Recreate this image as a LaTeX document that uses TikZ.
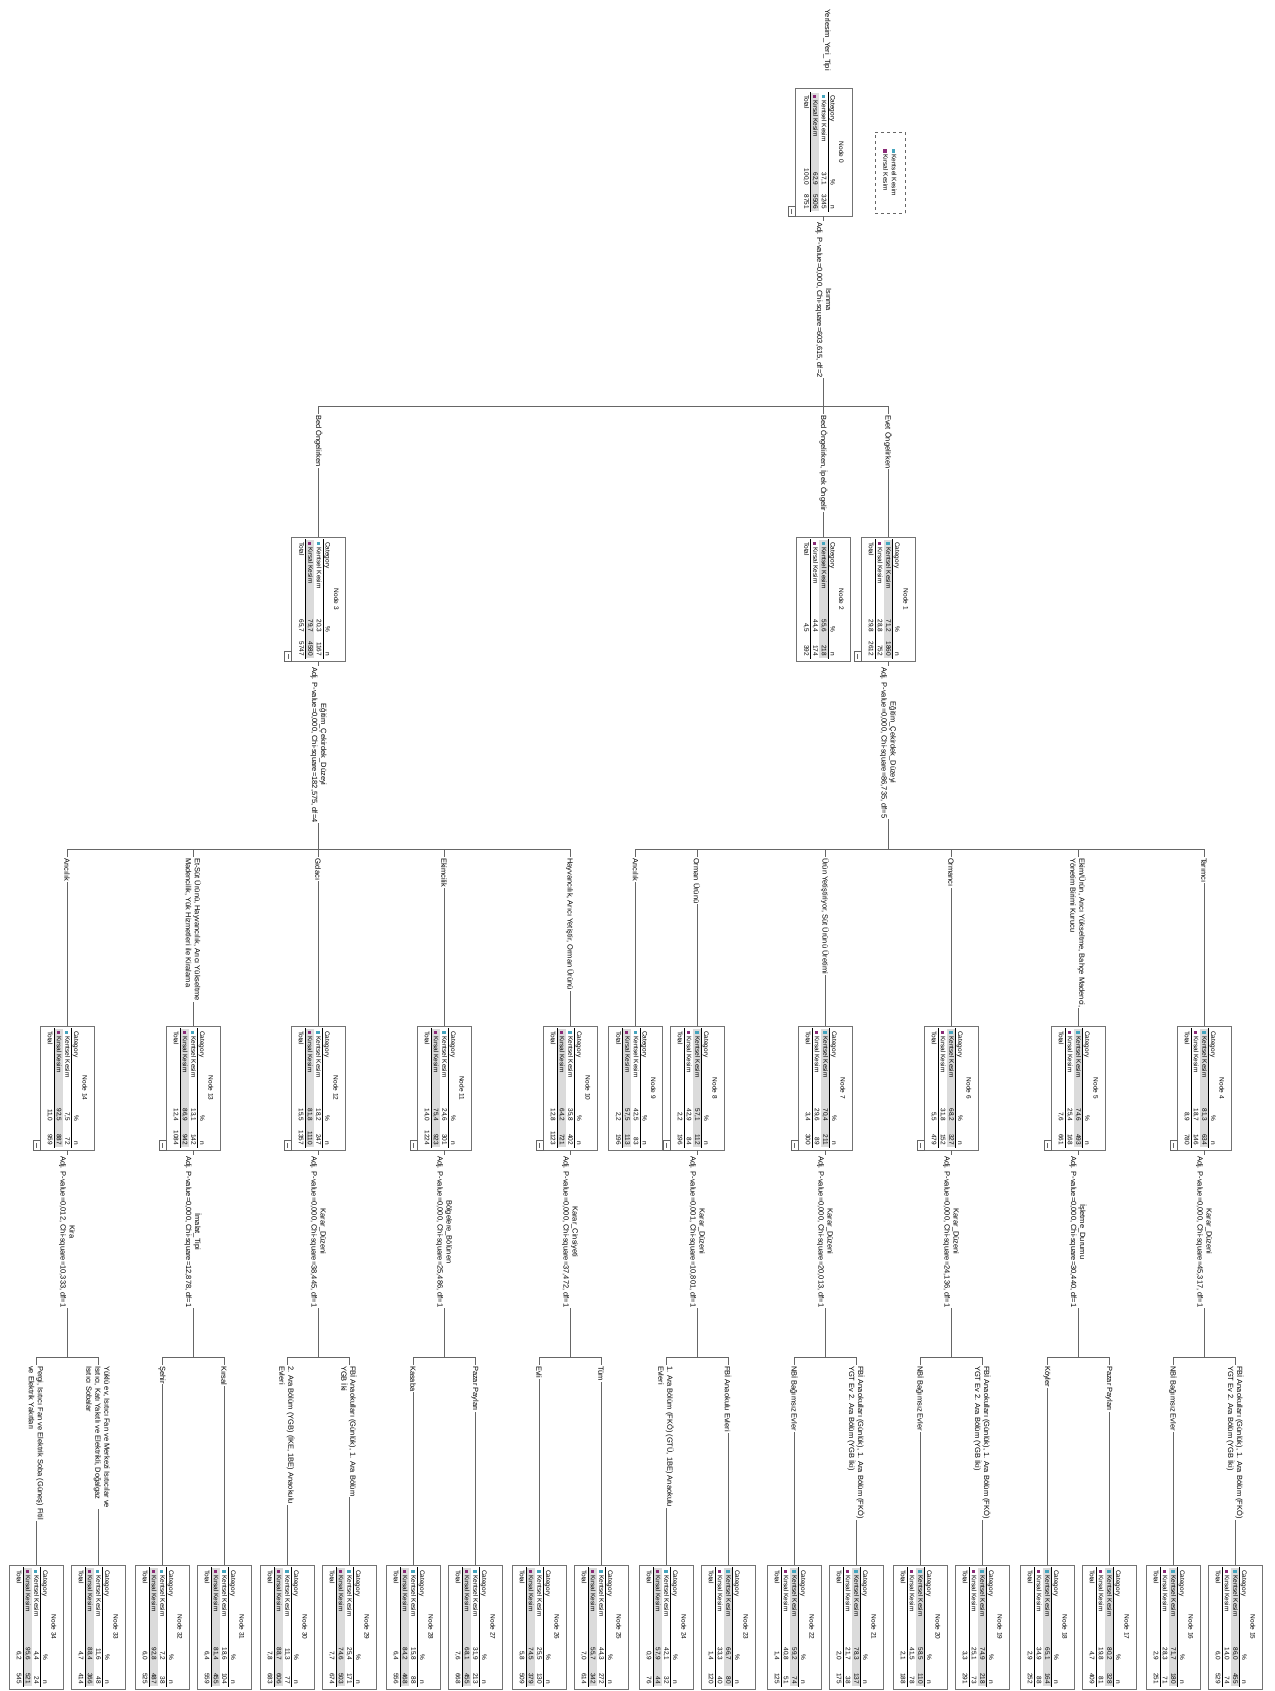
\PassOptionsToPackage{table}{xcolor}
\documentclass[tikz,border=0pt]{standalone}
\usepackage{fontspec}
\setmainfont{Liberation Sans}
\usepackage{array}
\usetikzlibrary{calc}
\definecolor{mka}{HTML}{45A5BE}
\definecolor{mkb}{HTML}{8A2B77}
\colorlet{shd}{black!14}
\colorlet{ra1}{shd}\colorlet{ra2}{white}
\colorlet{rb1}{white}\colorlet{rb2}{shd}
\setlength{\tabcolsep}{2pt}
\renewcommand{\arraystretch}{1.12}
\newcommand{\mksq}[1]{\textcolor{#1}{\rule{3.2pt}{3.2pt}}}
% name, position, number, p1, n1, p2, n2, total (p & n), shaded row
\newcommand{\tb}[9]{%
\node[tbox] (#1) at (#2) {\begin{tabular}{@{\hspace{3pt}}p{68pt}>{\raggedleft\arraybackslash}p{18pt}>{\raggedleft\arraybackslash}p{20pt}@{\hspace{3pt}}}
\multicolumn{3}{c}{Node #3}\\
Category & \% & n\\\hline
\rowcolor{ra#9}\mksq{mka} Kentsel Kesim & #4 & #5\\
\rowcolor{rb#9}\mksq{mkb} Kırsal Kesim & #6 & #7\\\hline
Total & #8\\
\end{tabular}};}
\newcommand{\icn}[1]{\draw[icn] (#1.south east) rectangle ++(-7,-10);
\draw[black!60, line width=0.5pt] ([shift={(-3.5,-2.5)}]#1.south east) -- ++(0,-5);}
\newcommand{\cnx}[3]{\draw[cn] (#1.east) -- (#1.east |- 0,#2) -| (#3.west);}
\begin{document}
\begin{tikzpicture}[x=1pt,y=-1pt,
 tbox/.style={draw=black!55, fill=white, rotate=-90, anchor=west, inner sep=0pt, minimum width=124pt, minimum height=54pt, font=\fontsize{6.5}{7.6}\selectfont},
 cn/.style={draw=black!60, line width=0.6pt},
 blab/.style={rotate=-90, anchor=west, fill=white, inner sep=0.8pt, align=left, font=\fontsize{7.5}{9}\selectfont},
 slab/.style={rotate=-90, anchor=west, fill=white, inner sep=0.8pt, align=center, font=\fontsize{7.5}{9}\selectfont},
 icn/.style={draw=black!60, line width=0.5pt, fill=white}]
\useasboundingbox (0,0) rectangle (1274,1691);

% title and legend
\node[rotate=-90, anchor=west, font=\fontsize{7.5}{9}\selectfont] (title) at (827,6) {Yerlesim\_Yeri\_Tipi};
\node[rotate=-90, anchor=west, draw=black!60, dashed, align=left, inner sep=2pt, minimum width=81pt, minimum height=30pt, font=\fontsize{6.5}{8.5}\selectfont] (legend) at (890,132) {\mksq{mka} Kentsel Kesim\\\mksq{mkb} Kırsal Kesim};

% nodes
\begin{scope}[tbox/.append style={minimum width=128pt, minimum height=57pt}]
\tb{n0}{823.5,88}{0}{37,1}{3245}{62,9}{5506}{100,0 & 8751}{2}
\end{scope}
\tb{n1}{888,537}{1}{71,2}{1860}{28,8}{752}{29,8 & 2612}{1}
\tb{n2}{823.5,537}{2}{55,6}{218}{44,4}{174}{4,5 & 392}{1}
\tb{n3}{318.5,537}{3}{20,3}{1167}{79,7}{4580}{65,7 & 5747}{2}

\tb{n4}{1204,1026}{4}{81,3}{634}{18,7}{146}{8,9 & 780}{1}
\tb{n5}{1078,1026}{5}{74,6}{493}{25,4}{168}{7,6 & 661}{1}
\tb{n6}{951,1026}{6}{68,2}{327}{31,8}{152}{5,5 & 479}{1}
\tb{n7}{825,1026}{7}{70,4}{211}{29,6}{89}{3,4 & 300}{1}
\tb{n8}{697,1026}{8}{57,1}{112}{42,9}{84}{2,2 & 196}{1}
\tb{n9}{635.5,1026}{9}{42,5}{83}{57,5}{113}{2,2 & 196}{2}
\tb{n10}{570,1026}{10}{35,8}{402}{64,2}{721}{12,8 & 1123}{2}
\tb{n11}{444,1026}{11}{24,6}{301}{75,4}{923}{14,0 & 1224}{2}
\tb{n12}{318,1026}{12}{18,2}{247}{81,8}{1110}{15,5 & 1357}{2}
\tb{n13}{193,1026}{13}{13,1}{142}{86,9}{942}{12,4 & 1084}{2}
\tb{n14}{67,1026}{14}{7,5}{72}{92,5}{887}{11,0 & 959}{2}

\tb{n15}{1235,1565}{15}{86,0}{455}{14,0}{74}{6,0 & 529}{1}
\tb{n16}{1173,1565}{16}{71,7}{180}{28,3}{71}{2,9 & 251}{1}
\tb{n17}{1109,1565}{17}{80,2}{328}{19,8}{81}{4,7 & 409}{1}
\tb{n18}{1047,1565}{18}{65,1}{164}{34,9}{88}{2,9 & 252}{1}
\tb{n19}{982,1565}{19}{74,9}{218}{25,1}{73}{3,3 & 291}{1}
\tb{n20}{920,1565}{20}{58,5}{110}{41,5}{78}{2,1 & 188}{1}
\tb{n21}{856,1565}{21}{78,3}{137}{21,7}{38}{2,0 & 175}{1}
\tb{n22}{794,1565}{22}{59,2}{74}{40,8}{51}{1,4 & 125}{1}
\tb{n23}{728,1565}{23}{66,7}{80}{33,3}{40}{1,4 & 120}{1}
\tb{n24}{666,1565}{24}{42,1}{32}{57,9}{44}{0,9 & 76}{2}
\tb{n25}{601,1565}{25}{44,3}{272}{55,7}{342}{7,0 & 614}{2}
\tb{n26}{539,1565}{26}{25,5}{130}{74,5}{379}{5,8 & 509}{2}
\tb{n27}{475,1565}{27}{31,9}{213}{68,1}{455}{7,6 & 668}{2}
\tb{n28}{413,1565}{28}{15,8}{88}{84,2}{468}{6,4 & 556}{2}
\tb{n29}{349,1565}{29}{25,4}{171}{74,6}{503}{7,7 & 674}{2}
\tb{n30}{287,1565}{30}{11,3}{77}{88,7}{606}{7,8 & 683}{2}
\tb{n31}{224,1565}{31}{18,6}{104}{81,4}{455}{6,4 & 559}{2}
\tb{n32}{162,1565}{32}{7,2}{38}{92,8}{487}{6,0 & 525}{2}
\tb{n33}{98,1565}{33}{11,6}{48}{88,4}{366}{4,7 & 414}{2}
\tb{n34}{36,1565}{34}{4,4}{24}{95,6}{521}{6,2 & 545}{2}

% connectors
\cnx{n0}{406}{n1}\cnx{n0}{406}{n2}\cnx{n0}{406}{n3}
\cnx{n1}{849}{n4}\cnx{n1}{849}{n5}\cnx{n1}{849}{n6}\cnx{n1}{849}{n7}\cnx{n1}{849}{n8}\cnx{n1}{849}{n9}
\cnx{n3}{849}{n10}\cnx{n3}{849}{n11}\cnx{n3}{849}{n12}\cnx{n3}{849}{n13}\cnx{n3}{849}{n14}
\cnx{n4}{1357}{n15}\cnx{n4}{1357}{n16}
\cnx{n5}{1357}{n17}\cnx{n5}{1357}{n18}
\cnx{n6}{1357}{n19}\cnx{n6}{1357}{n20}
\cnx{n7}{1357}{n21}\cnx{n7}{1357}{n22}
\cnx{n8}{1357}{n23}\cnx{n8}{1357}{n24}
\cnx{n10}{1357}{n25}\cnx{n10}{1357}{n26}
\cnx{n11}{1357}{n27}\cnx{n11}{1357}{n28}
\cnx{n12}{1357}{n29}\cnx{n12}{1357}{n30}
\cnx{n13}{1357}{n31}\cnx{n13}{1357}{n32}
\cnx{n14}{1357}{n33}\cnx{n14}{1357}{n34}

% split labels
\node[slab] (s0) at (823.5,221) {Isınma\\Adj. P-value=0,000, Chi-square=603,615, df=2};
\node[slab] (s1) at (888,666) {Eğitim\_Çekirdek\_Düzeyi\\Adj. P-value=0,000, Chi-square=86,735, df=5};
\node[slab] (s3) at (318.5,666) {Eğitim\_Çekirdek\_Düzeyi\\Adj. P-value=0,000, Chi-square=182,575, df=4};
\node[slab] (s4) at (1204,1155) {Karar\_Düzeni\\Adj. P-value=0,000, Chi-square=45,317, df=1};
\node[slab] (s5) at (1078,1155) {İşletme\_Durumu\\Adj. P-value=0,000, Chi-square=30,440, df=1};
\node[slab] (s6) at (951,1155) {Karar\_Düzeni\\Adj. P-value=0,000, Chi-square=24,136, df=1};
\node[slab] (s7) at (825,1155) {Karar\_Düzeni\\Adj. P-value=0,000, Chi-square=20,013, df=1};
\node[slab] (s8) at (697,1155) {Karar\_Düzeni\\Adj. P-value=0,001, Chi-square=10,801, df=1};
\node[slab] (s10) at (570,1155) {Karar\_Cinsiyeti\\Adj. P-value=0,000, Chi-square=37,472, df=1};
\node[slab] (s11) at (444,1155) {Bölgelere\_Bölünen\\Adj. P-value=0,000, Chi-square=25,486, df=1};
\node[slab] (s12) at (318,1155) {Karar\_Düzeni\\Adj. P-value=0,000, Chi-square=38,445, df=1};
\node[slab] (s13) at (193,1155) {İmalat\_Tipi\\Adj. P-value=0,000, Chi-square=12,878, df=1};
\node[slab] (s14) at (67,1155) {Kira\\Adj. P-value=0,012, Chi-square=10,333, df=1};

% branch labels level 1
\node[blab] (l1) at (888,414) {Evet Öngelirken};
\node[blab] (l2) at (823.5,414) {Bed Öngelirken, İpek Öngelir};
\node[blab] (l3) at (318.5,414) {Bed Öngelirken};
% level 2
\node[blab] (l4) at (1204,857) {Tarımcı};
\node[blab] (l5) at (1078,857) {Ekim/Ürün, Arıcı Yükseltme, Bahçe Madenci,\\Yönetim Birimi Kurucu};
\node[blab] (l6) at (951,857) {Ormancı};
\node[blab] (l7) at (825,857) {Ürün Yetiştiriyor, Süt Ürünü Üretimi};
\node[blab] (l8) at (697,857) {Orman Ürünü};
\node[blab] (l9) at (635.5,857) {Arıcılık};
\node[blab] (l10) at (570,857) {Hayvancılık, Arıcı Yetiştir, Orman Ürünü};
\node[blab] (l11) at (444,857) {Ekimcilik};
\node[blab] (l12) at (318,857) {Gıdacı};
\node[blab] (l13) at (193,857) {Et-Süt Ürünü, Hayvancılık, Arıcı Yükseltme\\Madencilik, Yük Hizmetleri ile Kiralama};
\node[blab] (l14) at (67,857) {Arıcılık};
% level 3
\node[blab] (l15) at (1235,1365) {FBİ Anaokulları (Günlük), 1. Ara Bölüm (FKÖ)\\YGT Ev 2. Ara Bölüm (YGB İki)};
\node[blab] (l16) at (1173,1365) {NBİ Bağımsız Evler};
\node[blab] (l17) at (1109,1365) {Pazar Payları};
\node[blab] (l18) at (1047,1365) {Köyler};
\node[blab] (l19) at (982,1365) {FBİ Anaokulları (Günlük), 1. Ara Bölüm (FKÖ)\\YGT Ev 2. Ara Bölüm (YGB İki)};
\node[blab] (l20) at (920,1365) {NBİ Bağımsız Evler};
\node[blab] (l21) at (856,1365) {FBİ Anaokulları (Günlük), 1. Ara Bölüm (FKÖ)\\YGT Ev 2. Ara Bölüm (YGB İki)};
\node[blab] (l22) at (794,1365) {NBİ Bağımsız Evler};
\node[blab] (l23) at (728,1365) {FBİ Anaokulu Evleri};
\node[blab] (l24) at (666,1365) {1. Ara Bölüm (FKÖ) (GTÜ, 1BE) Anaokulu\\Evleri};
\node[blab] (l25) at (601,1365) {Tüm};
\node[blab] (l26) at (539,1365) {Evli};
\node[blab] (l27) at (475,1365) {Pazar Payları};
\node[blab] (l28) at (413,1365) {Kasaba};
\node[blab] (l29) at (349,1365) {FBİ Anaokulları (Günlük), 1. Ara Bölüm\\YGB İki};
\node[blab] (l30) at (287,1365) {2. Ara Bölüm (YGB) (İKE, 1BE) Anaokulu\\Evleri};
\node[blab] (l31) at (224,1365) {Kırsal};
\node[blab] (l32) at (162,1365) {Şehir};
\node[blab] (l33) at (98,1365) {Yüklü ev, Isıtıcı Fan ve Merkezi Isıtıcılar ve\\Isıtıcı, Katı Yakıtlı ve Elektrikli, Doğalgaz\\Isıtıcı Sobalar};
\node[blab] (l34) at (36,1365) {Pergi, Isıtıcı Fan ve Elektrik Soba (Güneş) Fitil\\ve Elektrik Yakıtları};

% collapse icons
\icn{n0}\icn{n1}\icn{n3}
\icn{n4}\icn{n5}\icn{n6}\icn{n7}\icn{n8}
\icn{n10}\icn{n11}\icn{n12}\icn{n13}\icn{n14}
\end{tikzpicture}
\end{document}
